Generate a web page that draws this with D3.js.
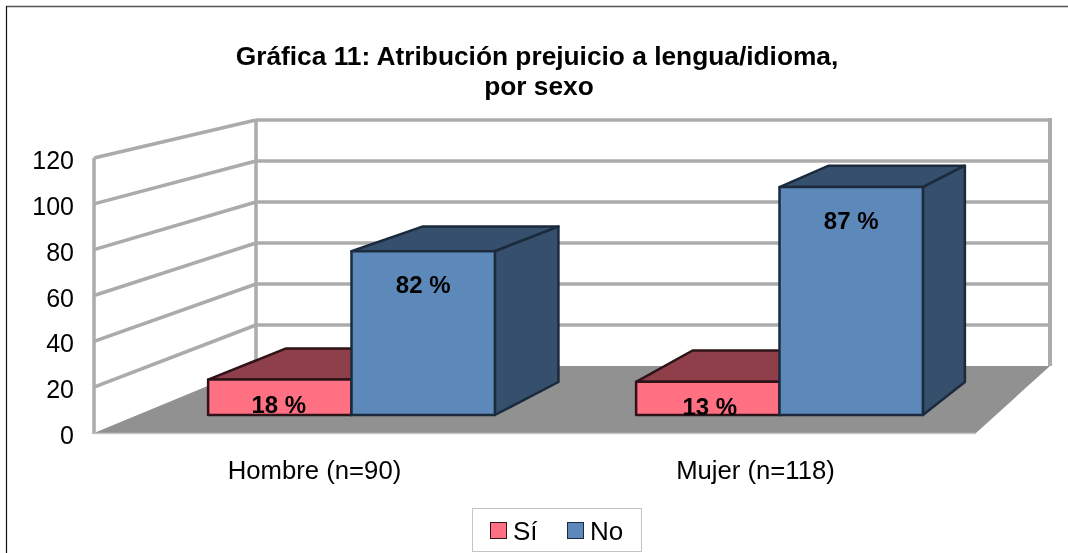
<!DOCTYPE html>
<html><head><meta charset="utf-8">
<script src="https://cdn.jsdelivr.net/npm/d3@7"></script>
<style>html,body{margin:0;padding:0;background:#fff}svg{display:block;filter:blur(.35px)}text{font-family:"Liberation Sans",Arial,sans-serif;fill:#000}</style>
</head><body><svg id="c" width="1068" height="553"></svg>
<script>
const categories = ["Hombre (n=90)", "Mujer (n=118)"];
const seriesNames = ["Sí", "No"];
const siValues = [16, 15];
const noValues = [74, 103];
const siLabels = ["18 %", "13 %"];
const noLabels = ["82 %", "87 %"];
const tickValues = [0, 20, 40, 60, 80, 100, 120];
const titleLines = ["Gráfica 11: Atribución prejuicio a lengua/idioma,", "por sexo"];
const seriesFront = ["#ff7083", "#5d89ba"];
const seriesDark = ["#8f3f4a", "#364f6c"];
const seriesStroke = ["#2e1418", "#1b2b3d"];

const svg = d3.select("#c");
svg.append("line").attr("x1",6).attr("y1",6.5).attr("x2",1068).attr("y2",6.5).attr("stroke","#555").attr("stroke-width",1.5);
svg.append("line").attr("x1",6.5).attr("y1",6).attr("x2",6.5).attr("y2",553).attr("stroke","#111").attr("stroke-width",1.2);

// 3D frame: front plane and back wall scales
const yFront = d3.scaleLinear().domain([0,120]).range([433,158]);
const yBack  = d3.scaleLinear().domain([0,120]).range([366,120]);
const xPlot  = d3.scaleBand().domain(categories).range([94,976]);
const xL = 94, xB = 256, xR = 1050, xFR = 976;
const grid = "#ababab";

svg.append("path").attr("fill","#919191")
  .attr("d",`M${xL},${yFront(0)}L${xB},${yBack(0)}L${xR},${yBack(0)}L${xFR},${yFront(0)}Z`);

const g = svg.append("g").attr("fill","none").attr("stroke",grid).attr("stroke-width",3.5);
tickValues.forEach(v=>{
  if(v>0){
    g.append("line").attr("x1",xL).attr("y1",yFront(v)).attr("x2",xB).attr("y2",yBack(v));
    g.append("line").attr("x1",xB).attr("y1",yBack(v)).attr("x2",xR).attr("y2",yBack(v));
  }
});
g.append("line").attr("x1",xL).attr("y1",yFront(0)+1).attr("x2",xL).attr("y2",yFront(120));
g.append("line").attr("x1",xB).attr("y1",yBack(0)).attr("x2",xB).attr("y2",yBack(120));
g.append("line").attr("x1",xR).attr("y1",yBack(0)).attr("x2",xR).attr("y2",yBack(120)-2).attr("stroke-width",4);
svg.append("line").attr("x1",xL).attr("y1",yFront(0)+.5).attr("x2",xFR).attr("y2",yFront(0)+.5).attr("stroke","#c8c8c8").attr("stroke-width",1.5);

// bar planes
const hFront = d3.scaleLinear().domain([0,120]).range([415,149.5]);
const hBack  = d3.scaleLinear().domain([0,120]).range([382,130]);
const xBarBand = d3.scaleBand().domain(categories).range([137.5,993.5]).paddingInner(0.33).paddingOuter(0.165);
const xSeries = d3.scaleBand().domain(seriesNames).range([0,xBarBand.bandwidth()]);
const toBack = d3.scaleLinear().domain([208,923]).range([286,965]);

categories.forEach((cat,i)=>{
  [siValues[i],noValues[i]].forEach((val,s)=>{
    const name = seriesNames[s];
    const x0 = xBarBand(cat)+xSeries(name), x1 = x0+xSeries.bandwidth();
    const yt = hFront(val), yb = hFront(0), ytb = hBack(val), ybb = hBack(0);
    const bx0 = toBack(x0), bx1 = toBack(x1);
    const bar = svg.append("g").attr("stroke",seriesStroke[s]).attr("stroke-width",2.5).attr("stroke-linejoin","round");
    bar.append("path").attr("fill",seriesDark[s]).attr("d",`M${x0},${yt}L${bx0},${ytb}L${bx1},${ytb}L${x1},${yt}Z`);
    bar.append("path").attr("fill",seriesDark[s]).attr("d",`M${x1},${yt}L${bx1},${ytb}L${bx1},${ybb}L${x1},${yb}Z`);
    bar.append("rect").attr("fill",seriesFront[s]).attr("x",x0).attr("y",yt).attr("width",x1-x0).attr("height",yb-yt);
  });
});

// data labels
categories.forEach((cat,i)=>{
  [[siValues[i],siLabels[i]],[noValues[i],noLabels[i]]].forEach(([val,lab],s)=>{
    const x0 = xBarBand(cat)+xSeries(seriesNames[s]);
    svg.append("text").attr("x",x0+xSeries.bandwidth()/2+(s?0:(i?2:-1))).attr("y",hFront(val)+(s?42:33))
      .attr("text-anchor","middle").attr("font-weight","bold").attr("font-size",24).text(lab);
  });
});

// y axis
const yAxis = d3.axisLeft(yFront).tickValues(tickValues).tickSize(0).tickPadding(0);
const ya = svg.append("g").attr("transform","translate(74,2.5)").call(yAxis);
ya.select(".domain").remove();
ya.selectAll("text").attr("font-size",25).attr("font-family",'"Liberation Sans"');

// x axis
const xAxis = d3.axisBottom(xPlot).tickSize(0).tickPadding(0);
const xa = svg.append("g").attr("transform","translate(0,461)").call(xAxis);
xa.select(".domain").remove();
xa.selectAll("text").attr("font-size",25.7).attr("font-family",'"Liberation Sans"');

// title
svg.selectAll("text.title").data(titleLines).join("text").attr("class","title")
  .attr("x",(d,i)=>537+i*2).attr("y",(d,i)=>65+i*30).attr("text-anchor","middle")
  .attr("font-weight","bold").attr("font-size",26.3).text(d=>d);

// legend
svg.append("rect").attr("x",472.5).attr("y",508.5).attr("width",169).attr("height",43).attr("fill","#fff").attr("stroke","#c4c4c4").attr("stroke-width",1);
const lx = d3.scaleOrdinal().domain(seriesNames).range([490,567]);
seriesNames.forEach((n,s)=>{
  svg.append("rect").attr("x",lx(n)+.5).attr("y",522.5).attr("width",16).attr("height",16)
    .attr("fill",seriesFront[s]).attr("stroke",seriesStroke[s]);
  svg.append("text").attr("x",lx(n)+23).attr("y",540).attr("font-size",26).text(n);
});
</script></body></html>
